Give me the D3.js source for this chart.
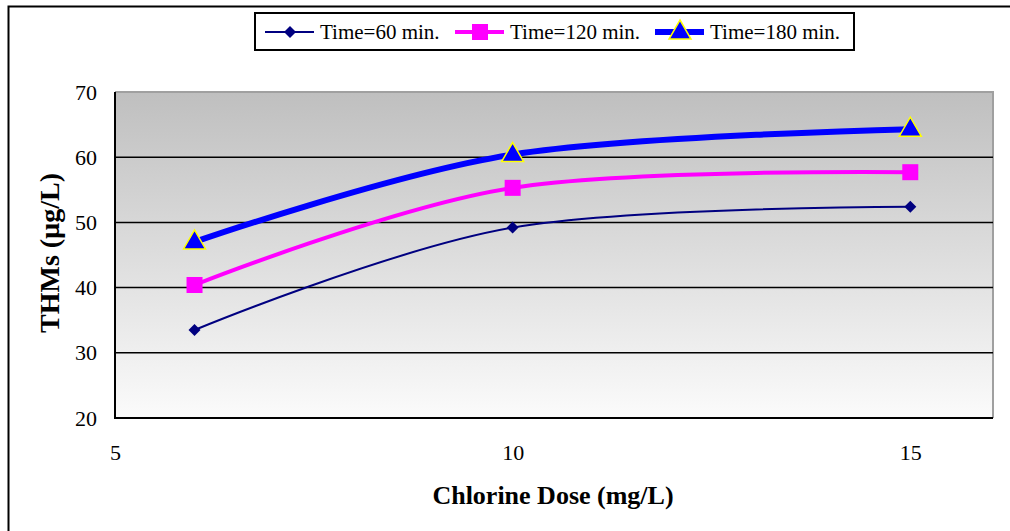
<!DOCTYPE html>
<html><head><meta charset="utf-8">
<script src="https://cdn.jsdelivr.net/npm/d3@7"></script>
<style>body{margin:0;background:#fff}svg{display:block}text{font-family:"Liberation Serif","Times New Roman",serif}</style>
</head><body>
<script>
const doses = [6, 10, 15];
const t60 = [33.5, 49.2, 52.4];
const t120 = [40.4, 55.3, 57.7];
const t180 = [47.0, 60.4, 64.3];
const seriesNames = ["Time=60 min.", "Time=120 min.", "Time=180 min."];
const xTicks = [5, 10, 15];
const yTicks = [20, 30, 40, 50, 60, 70];

const W = 1010, H = 531;
const svg = d3.select("body").append("svg").attr("width", W).attr("height", H);
const defs = svg.append("defs");
const grad = defs.append("linearGradient").attr("id", "bg").attr("x1", 0).attr("y1", 0).attr("x2", 0).attr("y2", 1);
grad.append("stop").attr("offset", "0%").attr("stop-color", "#bfbfbf");
grad.append("stop").attr("offset", "100%").attr("stop-color", "#fbfbfb");

svg.append("path").attr("d", `M8.5,${H} V6.5 H${W}`).attr("fill", "none").attr("stroke", "#000").attr("stroke-width", 2);

const L = 115, T = 92, R = 993, B = 418;
const x = d3.scaleLinear().domain([5, 16.04]).range([L, R]);
const y = d3.scaleLinear().domain([20, 70]).range([B, T]);

svg.append("rect").attr("x", L).attr("y", T).attr("width", R - L).attr("height", B - T).attr("fill", "url(#bg)");
svg.append("path").attr("d", `M${L},${T} H${R} V${B}`).attr("fill", "none").attr("stroke", "#a0a0a0").attr("stroke-width", 2);

svg.append("g").selectAll("line").data(yTicks.filter(d => d > 20 && d < 70)).join("line")
  .attr("x1", L).attr("x2", R).attr("y1", d => y(d)).attr("y2", d => y(d))
  .attr("stroke", "#000").attr("stroke-width", 1.5);

svg.append("path").attr("d", `M${L},${T} V${B} H${R}`).attr("fill", "none").attr("stroke", "#000").attr("stroke-width", 2);

const yAxis = d3.axisLeft(y).tickValues(yTicks).tickSize(0).tickPadding(18);
const gy = svg.append("g").attr("transform", `translate(${L},0)`).call(yAxis);
gy.select(".domain").remove();
gy.selectAll("text").style("font-size", "22px").attr("fill", "#000").style("font-family", '"Liberation Serif",serif');

const xAxis = d3.axisBottom(x).tickValues(xTicks).tickSize(0).tickPadding(26);
const gx = svg.append("g").attr("transform", `translate(0,${B})`).call(xAxis);
gx.select(".domain").remove();
gx.selectAll("text").style("font-size", "22px").attr("fill", "#000").style("font-family", '"Liberation Serif",serif');

svg.append("text").attr("x", 553).attr("y", 504).attr("text-anchor", "middle")
  .style("font-size", "26px").attr("font-weight", "bold").text("Chlorine Dose (mg/L)");
svg.append("text").attr("transform", "translate(59,253) rotate(-90)").attr("text-anchor", "middle")
  .style("font-size", "28px").attr("font-weight", "bold").text("THMs (µg/L)");

const series = [
  {name: seriesNames[0], vals: t60, color: "#000080", width: 2, marker: "diamond"},
  {name: seriesNames[1], vals: t120, color: "#ff00ff", width: 4, marker: "square"},
  {name: seriesNames[2], vals: t180, color: "#0000ff", width: 6, marker: "triangle"}
];

const line = d3.line().x(d => x(d[0])).y(d => y(d[1])).curve(d3.curveCatmullRom.alpha(0));

function drawMarker(g, type, cx, cy) {
  if (type === "diamond") {
    g.append("path").attr("d", `M${cx},${cy-6} L${cx+6},${cy} L${cx},${cy+6} L${cx-6},${cy} Z`).attr("fill", "#000080");
  } else if (type === "square") {
    g.append("rect").attr("x", cx - 8).attr("y", cy - 8).attr("width", 16).attr("height", 16).attr("fill", "#ff00ff");
  } else {
    g.append("path").attr("d", `M${cx},${cy-12} L${cx+11},${cy+7} L${cx-11},${cy+7} Z`)
      .attr("fill", "#0000ff").attr("stroke", "#ffff00").attr("stroke-width", 1.5);
  }
}

series.forEach(s => {
  const pts = doses.map((d, i) => [d, s.vals[i]]);
  svg.append("path").attr("d", line(pts)).attr("fill", "none").attr("stroke", s.color).attr("stroke-width", s.width);
  const g = svg.append("g");
  pts.forEach(p => drawMarker(g, s.marker, x(p[0]), y(p[1])));
});

svg.append("rect").attr("x", 255).attr("y", 13).attr("width", 599).attr("height", 37).attr("fill", "#fff").attr("stroke", "#000").attr("stroke-width", 2);
const legX = [265, 455, 655];
series.forEach((s, i) => {
  const lg = svg.append("g");
  lg.append("line").attr("x1", legX[i]).attr("x2", legX[i] + 49).attr("y1", 32).attr("y2", 32).attr("stroke", s.color).attr("stroke-width", s.width);
  drawMarker(lg, s.marker, legX[i] + 25, 32);
  lg.append("text").attr("x", legX[i] + 55).attr("y", 39).style("font-size", "21px").text(s.name);
});
</script>
</body></html>
